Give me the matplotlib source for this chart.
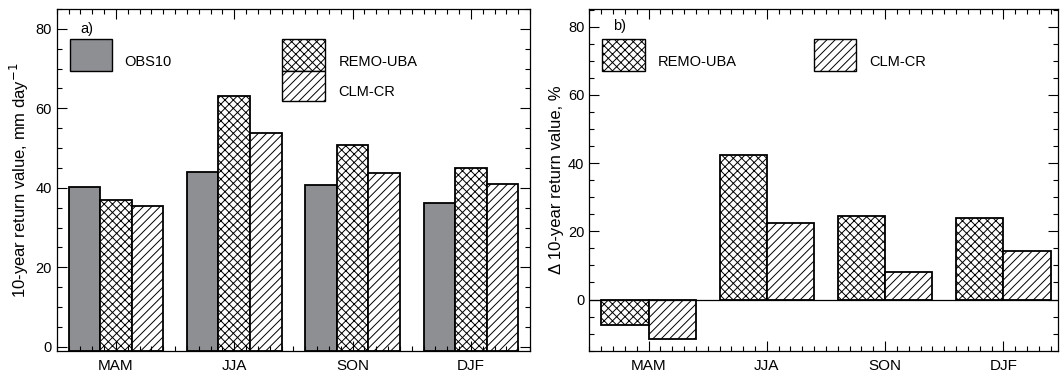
import numpy as np
import matplotlib
matplotlib.use('Agg')
import matplotlib.pyplot as plt
from matplotlib.patches import Rectangle
from matplotlib.ticker import MultipleLocator

plt.rcParams['font.family'] = ['Liberation Sans', 'DejaVu Sans']
plt.rcParams['hatch.linewidth'] = 0.7

seasons = ['MAM', 'JJA', 'SON', 'DJF']

# panel a: 10-year return values, mm/day
obs10 = [40.2, 43.9, 40.8, 36.1]
remo_uba = [37.0, 63.0, 50.8, 45.0]
clm_cr = [35.3, 53.8, 43.8, 41.0]

# panel b: change of 10-year return value, %
d_remo = [-7.5, 42.4, 24.4, 23.9]
d_clm = [-11.7, 22.5, 8.1, 14.2]

grey = '#8e8f93'
cross = 'xxxx'
diag = '////'
x = np.arange(len(seasons))

fig = plt.figure(figsize=(10.6, 3.73), dpi=100)
ax1 = fig.add_axes([0.0535, 0.0598, 0.4465, 0.9161])
ax2 = fig.add_axes([0.556, 0.0598, 0.4420, 0.9161])


def style_axis(ax, xlim, ylim):
    ax.set_xlim(*xlim)
    ax.set_ylim(*ylim)
    ax.set_xticks(x)
    ax.set_xticklabels(seasons, fontsize=11)
    ax.xaxis.set_minor_locator(MultipleLocator(0.1))
    ax.yaxis.set_major_locator(MultipleLocator(20))
    ax.yaxis.set_minor_locator(MultipleLocator(5))
    ax.tick_params(which='both', direction='in', top=True, right=True,
                   width=0.8, labelsize=10.5)
    ax.tick_params(axis='x', labelsize=11)
    ax.tick_params(which='major', length=7)
    ax.tick_params(which='minor', length=3.5)
    ax.tick_params(axis='x', pad=6)
    for s in ax.spines.values():
        s.set_linewidth(0.9)


# ---- panel a ----
w = 0.8 / 3
bot = -1.0
bar_kw = dict(edgecolor='k', linewidth=1.3)
ax1.bar(x - w, np.array(obs10) - bot, w, bottom=bot, color=grey, **bar_kw)
ax1.bar(x, np.array(remo_uba) - bot, w, bottom=bot, color='white', hatch=cross, **bar_kw)
ax1.bar(x + w, np.array(clm_cr) - bot, w, bottom=bot, color='white', hatch=diag, **bar_kw)
style_axis(ax1, (-0.5, 3.5), (-1, 85))
ax1.set_ylabel('10-year return value, mm day$^{-1}$', fontsize=12, labelpad=3)

ax1.text(0.049, 0.941, 'a)', transform=ax1.transAxes, fontsize=10.5, va='center')
ax1.add_patch(Rectangle((0.0281, 0.819), 0.0894, 0.092, transform=ax1.transAxes,
                        facecolor=grey, edgecolor='k', lw=1.0))
ax1.text(0.142, 0.845, 'OBS10', transform=ax1.transAxes, fontsize=10.5, va='center')
ax1.add_patch(Rectangle((0.4767, 0.819), 0.0902, 0.092, transform=ax1.transAxes,
                        facecolor='white', edgecolor='k', lw=1.0, hatch=cross))
ax1.add_patch(Rectangle((0.4767, 0.7306), 0.0902, 0.0884, transform=ax1.transAxes,
                        facecolor='white', edgecolor='k', lw=1.0, hatch=diag))
ax1.text(0.595, 0.845, 'REMO-UBA', transform=ax1.transAxes, fontsize=10.5, va='center')
ax1.text(0.595, 0.757, 'CLM-CR', transform=ax1.transAxes, fontsize=10.5, va='center')

# ---- panel b ----
w2 = 0.4
ax2.bar(x - w2 / 2, d_remo, w2, color='white', hatch=cross, **bar_kw)
ax2.bar(x + w2 / 2, d_clm, w2, color='white', hatch=diag, **bar_kw)
ax2.axhline(0, color='k', lw=0.9)
style_axis(ax2, (-0.5, 3.46), (-15, 85.2))
ax2.set_ylabel('\u0394 10-year return value, %', fontsize=12, labelpad=3)

ax2.text(0.05, 0.95, 'b)', transform=ax2.transAxes, fontsize=10.5, va='center')
ax2.add_patch(Rectangle((0.028, 0.819), 0.09, 0.092, transform=ax2.transAxes,
                        facecolor='white', edgecolor='k', lw=1.0, hatch=cross))
ax2.text(0.146, 0.845, 'REMO-UBA', transform=ax2.transAxes, fontsize=10.5, va='center')
ax2.add_patch(Rectangle((0.48, 0.819), 0.09, 0.092, transform=ax2.transAxes,
                        facecolor='white', edgecolor='k', lw=1.0, hatch=diag))
ax2.text(0.597, 0.845, 'CLM-CR', transform=ax2.transAxes, fontsize=10.5, va='center')

fig.savefig('out.png', dpi=100)
